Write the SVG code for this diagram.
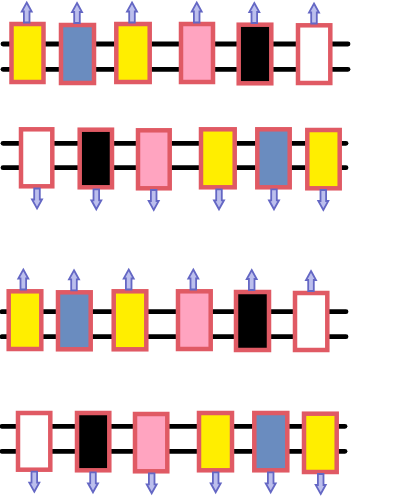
<svg xmlns="http://www.w3.org/2000/svg" width="411" height="499" viewBox="0 0 411 499">
<style>
.ln{stroke:#000;stroke-width:4.8;stroke-linecap:round;fill:none}
.b{stroke:#e05a64;stroke-width:4.5}
.y{fill:#ffee00}.bl{fill:#6a8cbf}.p{fill:#ffa4c0}.k{fill:#000}.w{fill:#fff}
.ar{fill:#bcbfed;stroke:#6467c4;stroke-width:1.8;stroke-linejoin:miter}
</style>
<defs>
<path id="up" d="M0,0 L5,9 L2.8,9 L2.8,20 L-2.8,20 L-2.8,9 L-5,9 Z"/>
<path id="dn" d="M0,0 L5,-9 L2.8,-9 L2.8,-20 L-2.8,-20 L-2.8,-9 L-5,-9 Z"/>
</defs>
<g id="connectors">
<line class="ln" x1="3" y1="44" x2="348" y2="44"/>
<line class="ln" x1="3" y1="69.3" x2="348" y2="69.3"/>
<line class="ln" x1="3" y1="143.3" x2="346" y2="143.3"/>
<line class="ln" x1="3" y1="167.7" x2="346" y2="167.7"/>
<line class="ln" x1="2" y1="311.7" x2="346" y2="311.7"/>
<line class="ln" x1="2" y1="336.7" x2="346" y2="336.7"/>
<line class="ln" x1="2" y1="426.3" x2="345" y2="426.3"/>
<line class="ln" x1="2" y1="451.3" x2="345" y2="451.3"/>
</g>
<g id="row1">
<g id="n1-1"><rect class="b y" x="11.5" y="24" width="32" height="58"/><use href="#up" class="ar" x="26.7" y="2.5"/></g>
<g id="n1-2"><rect class="b bl" x="61" y="25" width="33" height="58"/><use href="#up" class="ar" x="77" y="3"/></g>
<g id="n1-3"><rect class="b y" x="116.3" y="24" width="33.4" height="58"/><use href="#up" class="ar" x="132" y="2.5"/></g>
<g id="n1-4"><rect class="b p" x="181" y="24" width="32" height="58"/><use href="#up" class="ar" x="196.7" y="2.5"/></g>
<g id="n1-5"><rect class="b k" x="238.7" y="24.7" width="32.6" height="58.6"/><use href="#up" class="ar" x="254.3" y="3"/></g>
<g id="n1-6"><rect class="b w" x="298" y="25.3" width="32.3" height="57.7"/><use href="#up" class="ar" x="314" y="3.5"/></g>
</g>
<g id="row2">
<g id="n2-1"><rect class="b w" x="21" y="129.3" width="31.3" height="57"/><use href="#dn" class="ar" x="37" y="208.5"/></g>
<g id="n2-2"><rect class="b k" x="79.7" y="129.7" width="32.3" height="57.6"/><use href="#dn" class="ar" x="96.3" y="209.3"/></g>
<g id="n2-3"><rect class="b p" x="138" y="130.3" width="31.7" height="58"/><use href="#dn" class="ar" x="153.7" y="210"/></g>
<g id="n2-4"><rect class="b y" x="201" y="129.3" width="33.7" height="58"/><use href="#dn" class="ar" x="219" y="209.3"/></g>
<g id="n2-5"><rect class="b bl" x="257.3" y="129.3" width="32.4" height="58"/><use href="#dn" class="ar" x="274" y="209.3"/></g>
<g id="n2-6"><rect class="b y" x="307.3" y="130" width="32.4" height="58.3"/><use href="#dn" class="ar" x="323.3" y="210"/></g>
</g>
<g id="row3">
<g id="n3-1"><rect class="b y" x="8.7" y="291.3" width="32.6" height="57.7"/><use href="#up" class="ar" x="23.3" y="269.5"/></g>
<g id="n3-2"><rect class="b bl" x="58" y="292.3" width="32.7" height="57"/><use href="#up" class="ar" x="74" y="270.3"/></g>
<g id="n3-3"><rect class="b y" x="113.7" y="291.3" width="32.6" height="58"/><use href="#up" class="ar" x="128.7" y="269.5"/></g>
<g id="n3-4"><rect class="b p" x="178" y="291.3" width="32.7" height="57.7"/><use href="#up" class="ar" x="193.3" y="269.5"/></g>
<g id="n3-5"><rect class="b k" x="236" y="292" width="33" height="58"/><use href="#up" class="ar" x="251.7" y="270"/></g>
<g id="n3-6"><rect class="b w" x="295" y="293" width="32.3" height="57"/><use href="#up" class="ar" x="311" y="271"/></g>
</g>
<g id="row4">
<g id="n4-1"><rect class="b w" x="18" y="413" width="32.3" height="56.7"/><use href="#dn" class="ar" x="34.3" y="491.7"/></g>
<g id="n4-2"><rect class="b k" x="77" y="413" width="32.3" height="57.3"/><use href="#dn" class="ar" x="93" y="492.3"/></g>
<g id="n4-3"><rect class="b p" x="135" y="414" width="32.3" height="57.3"/><use href="#dn" class="ar" x="151.7" y="493.3"/></g>
<g id="n4-4"><rect class="b y" x="199" y="413" width="33" height="57.3"/><use href="#dn" class="ar" x="215.7" y="492.3"/></g>
<g id="n4-5"><rect class="b bl" x="254.3" y="413" width="33" height="57.3"/><use href="#dn" class="ar" x="270.7" y="492.3"/></g>
<g id="n4-6"><rect class="b y" x="304" y="413.7" width="32.7" height="58.3"/><use href="#dn" class="ar" x="320.7" y="494"/></g>
</g>
</svg>
